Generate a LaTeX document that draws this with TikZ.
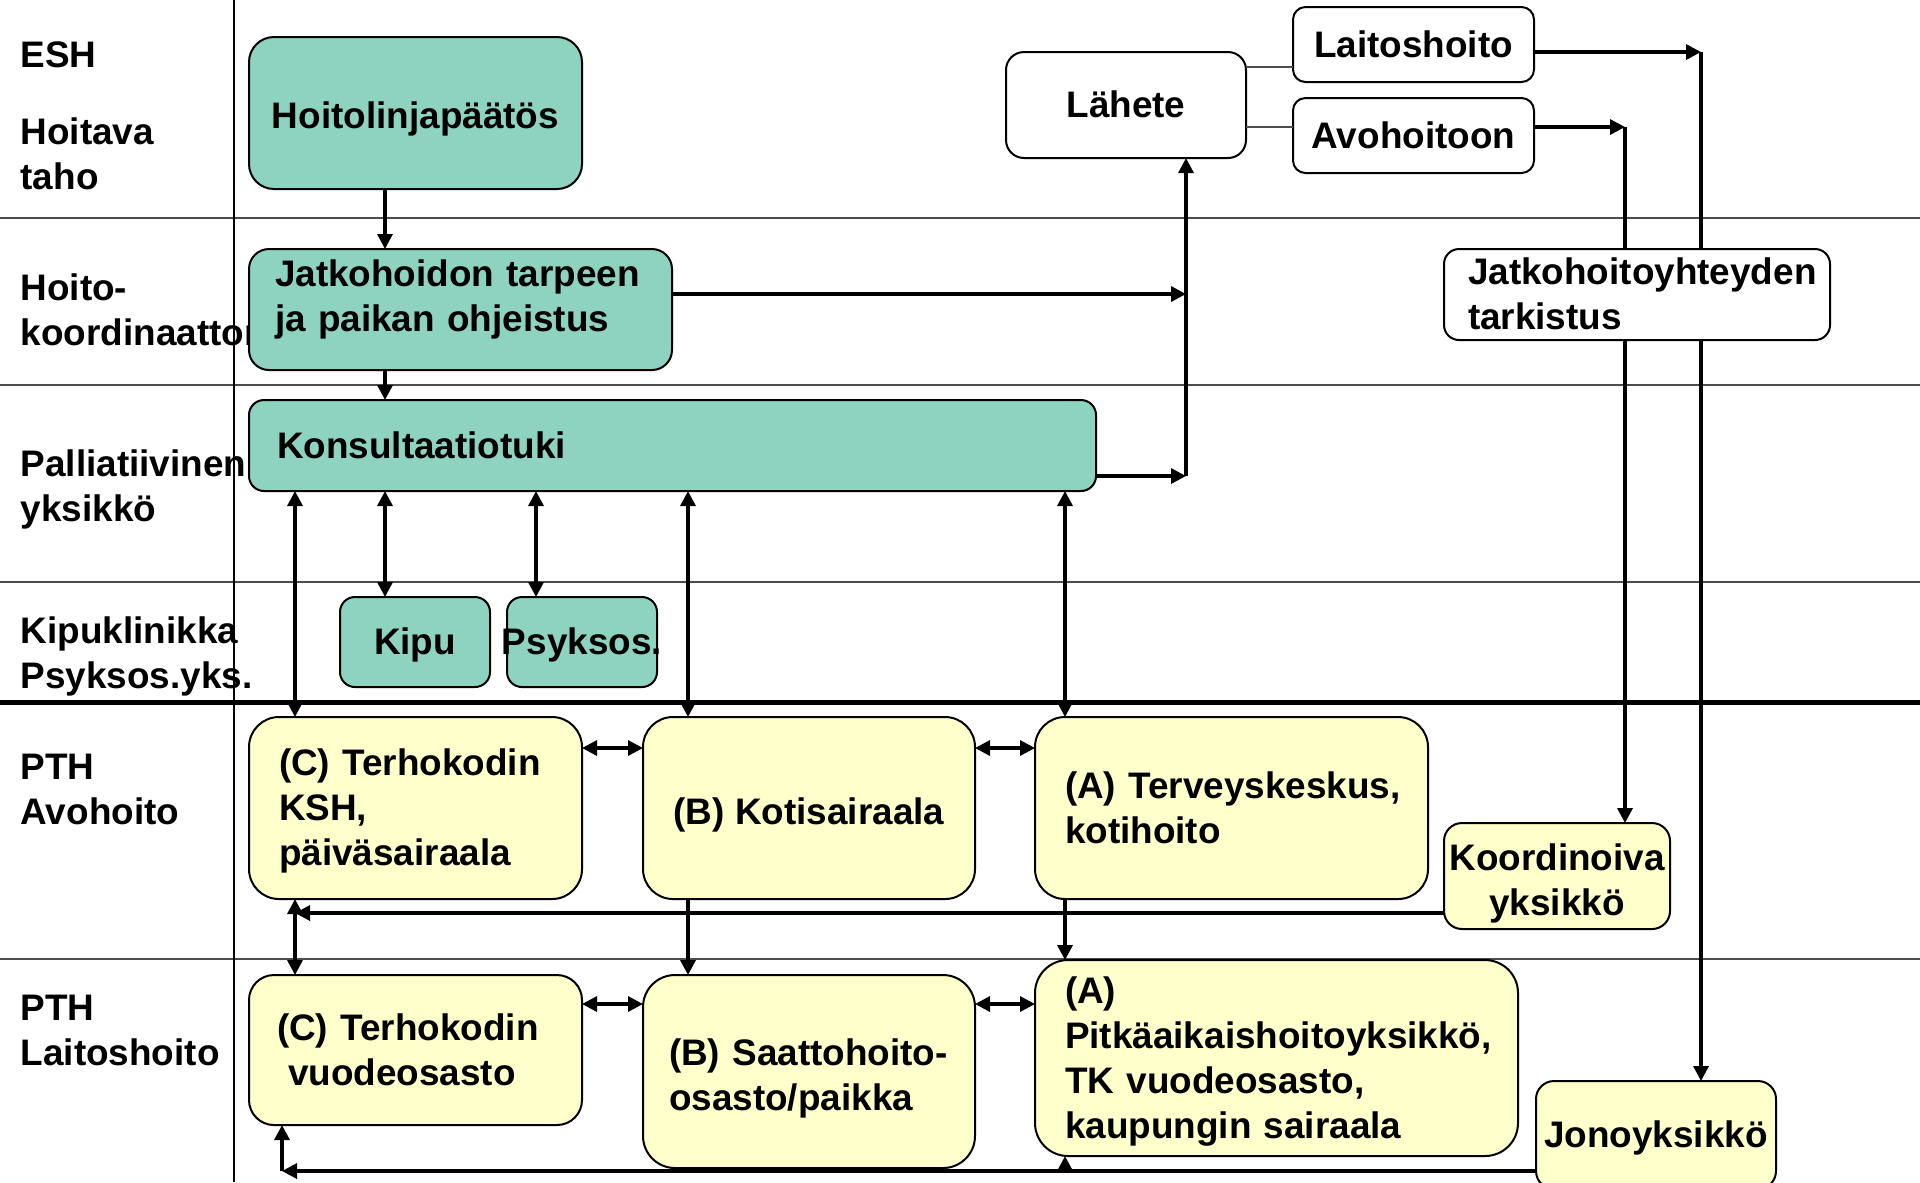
\documentclass[tikz,border=0pt]{standalone}
\usepackage{fontspec}
\setmainfont{Liberation Sans}
\usepackage{tikz}
\usetikzlibrary{positioning,arrows.meta}

\definecolor{tealfill}{RGB}{142,211,192}
\definecolor{creamfill}{RGB}{255,255,204}
\newcommand{\diagfont}{\bfseries\fontsize{10.5}{12.8}\selectfont\hyphenpenalty=10000 \exhyphenpenalty=10000 }
\newcommand{\boxstrut}{\rule[-0.212em]{0pt}{1.117em}}

\begin{document}
\begin{tikzpicture}[
			every node/.style={font=\diagfont},
			lane/.style={anchor=west, align=left, inner sep=0pt},
			laneline/.style={draw=black!70, line width=0.2mm},
			boxbase/.style={rectangle, draw=black, line width=0.2mm, outer sep=0pt, anchor=north west,
				execute at begin node=\boxstrut, execute at end node=\boxstrut},
			tealbox/.style={boxbase, fill=tealfill, rounded corners=#1},
			creambox/.style={boxbase, fill=creamfill, rounded corners=#1},
			whitebox/.style={boxbase, fill=white, rounded corners=#1},
			conn/.style={draw=black, line width=0.33mm},
			arr/.style={conn, -{Triangle[length=1.5mm, width=1.5mm]}},
			darr/.style={conn, {Triangle[length=1.5mm, width=1.5mm]}-{Triangle[length=1.5mm, width=1.5mm]}},
			tie/.style={draw=black!70, line width=0.2mm}
			]
			
			\path[use as bounding box, fill=white] (0,0) rectangle (19.2,-11.82);
			
			% swimlanes
			\draw [laneline] (0,-2.18) -- (19.2,-2.18);
			\draw [laneline] (0,-3.845) -- (19.2,-3.845);
			\draw [laneline] (0,-5.82) -- (19.2,-5.82);
			\draw [draw=black, line width=0.5mm] (0,-7.02) -- (19.2,-7.02);
			\draw [laneline] (0,-9.59) -- (19.2,-9.59);
			\draw [draw=black, line width=0.15mm] (2.34,0) -- (2.34,-11.82);
			
			\node (esh) [lane] at (0.2,-0.55) {ESH};
			\node (hoitava) [lane] at (0.2,-1.54) {Hoitava\\taho};
			\node (koordlab) [lane] at (0.2,-3.095) {Hoito-\\koordinaattori};
			\node (pallab) [lane] at (0.2,-4.895) {Palliatiivinen\\yksikkö};
			\node (kiplab) [lane] at (0.2,-6.56) {Kipuklinikka\\Psyksos.yks.};
			\node (avolab) [lane] at (0.2,-7.89) {PTH\\Avohoito};
			\node (laitlab) [lane] at (0.2,-10.305) {PTH\\Laitoshoito};
			
			% boxes
			\node (hoito) [tealbox=2.5mm, minimum width=3.33cm, minimum height=1.52cm] at (2.49,-0.37) {\rule{0pt}{0.38cm}Hoitolinjapäätös};
			\node (jatko) [tealbox=2mm, below=0.60cm of hoito.south west, anchor=north west, minimum width=4.23cm, minimum height=1.21cm, text width=3.71cm, inner xsep=0.26cm, inner ysep=0.01cm, align=left] {Jatkohoidon~tarpeen\\ja~paikan~ohjeistus\rule[-0.34cm]{0pt}{0pt}};
			\node (konsu) [tealbox=1.5mm, below=0.30cm of jatko.south west, anchor=north west, minimum width=8.47cm, minimum height=0.91cm, text width=7.91cm, inner xsep=0.28cm, align=left] {Konsultaatiotuki};
			
			\node (kipu) [tealbox=1.5mm, minimum width=1.5cm, minimum height=0.9cm] at (3.40,-5.97) {Kipu};
			\node (psyk) [tealbox=1.5mm, right=0.17cm of kipu, minimum width=1.5cm, minimum height=0.9cm, inner xsep=0.03cm] {\makebox[1.44cm]{Psyksos.}};
			
			\node (lahete) [whitebox=1.8mm, minimum width=2.40cm, minimum height=1.06cm] at (10.06,-0.52) {Lähete};
			\node (laitos) [whitebox=1.25mm, minimum width=2.41cm, minimum height=0.75cm] at (12.93,-0.07) {Laitoshoito};
			\node (avo) [whitebox=1.25mm, below=0.16cm of laitos, minimum width=2.41cm, minimum height=0.75cm] {Avohoitoon};
			
			\node (cksh) [creambox=3mm, minimum width=3.33cm, minimum height=1.82cm, text width=2.73cm, inner xsep=0.30cm, align=left] at (2.49,-7.17) {(C)~Terhokodin\\KSH,\\päiväsairaala};
			\node (bkoti) [creambox=3mm, right=0.61cm of cksh, minimum width=3.32cm, minimum height=1.82cm] {\rule{0pt}{0.40cm}(B) Kotisairaala};
			\node (ater) [creambox=3mm, right=0.60cm of bkoti, minimum width=3.93cm, minimum height=1.82cm, text width=3.33cm, inner xsep=0.30cm, align=left] {(A)~Terveyskeskus,\\kotihoito};
			\node (koord) [creambox=1.8mm, minimum width=2.26cm, minimum height=1.06cm, inner xsep=0.03cm, inner ysep=0.01cm, align=center] at (14.44,-8.23) {\rule{0pt}{0.42cm}Koordinoiva\\yksikkö};
			
			\node (cvuo) [creambox=2.5mm, below=0.76cm of cksh, minimum width=3.33cm, minimum height=1.50cm, text width=2.77cm, inner xsep=0.28cm, align=left] {(C)~Terhokodin\\\hspace*{0.11cm}vuodeosasto};
			\node (bsaatto) [creambox=3.2mm, below=0.76cm of bkoti, minimum width=3.32cm, minimum height=1.93cm, text width=2.80cm, inner xsep=0.26cm, align=left] {\rule{0pt}{0.40cm}(B)~Saattohoito-\\osasto/paikka};
			\node (apitka) [creambox=3.3mm, below=0.61cm of ater.south west, anchor=north west, minimum width=4.83cm, minimum height=1.96cm, text width=4.23cm, inner xsep=0.30cm, inner ysep=0.05cm, align=left] {(A)\\Pitkäaikaishoitoyksikkö,\\TK~vuodeosasto,\\kaupungin~sairaala};
			\node (jono) [creambox=1.8mm, minimum width=2.40cm, minimum height=1.08cm, inner xsep=0.05cm] at (15.36,-10.81) {Jonoyksikkö};
			
			% connector tracks
			\coordinate (xa) at (2.95,0);
			\coordinate (xb) at (3.85,0);
			\coordinate (xc) at (5.36,0);
			\coordinate (xd) at (6.88,0);
			\coordinate (xe) at (10.65,0);
			\coordinate (ya) at (0,-7.48);
			\coordinate (yb) at (0,-10.04);
			\coordinate (yl) at (0,-0.67);
			\coordinate (ym) at (0,-1.27);
			\coordinate (lj) at (11.86,-2.94);
			\coordinate (lk) at (11.86,-4.76);
			\coordinate (lt) at (17.01,-0.52);
			\coordinate (la) at (16.25,-1.27);
			\coordinate (lko) at (2.95,-9.13);
			\coordinate (lb) at (2.82,-11.71);
			
			\draw [arr] (hoito.south -| xb) -- (jatko.north -| xb);
			\draw [arr] (jatko.south -| xb) -- (konsu.north -| xb);
			
			\draw [darr] (konsu.south -| xa) -- (cksh.north -| xa);
			\draw [darr] (konsu.south -| xb) -- (kipu.north -| xb);
			\draw [darr] (konsu.south -| xc) -- (psyk.north -| xc);
			\draw [darr] (konsu.south -| xd) -- (bkoti.north -| xd);
			\draw [darr] (konsu.south -| xe) -- (ater.north -| xe);
			
			\draw [arr] (jatko.east |- lj) -- (lj);
			\draw [arr] (konsu.east |- lk) -- (lk);
			\draw [arr] (lk) -- (lahete.south -| lk);
			
			\draw [tie] (lahete.east |- yl) -- (laitos.west |- yl);
			\draw [tie] (lahete.east |- ym) -- (avo.west |- ym);
			\draw [arr] (laitos.east |- lt) -- (lt);
			\draw [arr] (avo.east |- la) -- (la);
			\draw [arr] (lt) -- (jono.north -| lt);
			\draw [arr] (la) -- (koord.north -| la);
			
			\draw [darr] (cksh.east |- ya) -- (bkoti.west |- ya);
			\draw [darr] (bkoti.east |- ya) -- (ater.west |- ya);
			\draw [darr] (cvuo.east |- yb) -- (bsaatto.west |- yb);
			\draw [darr] (bsaatto.east |- yb) -- (apitka.west |- yb);
			
			\draw [arr] (koord.west |- lko) -- (lko);
			\draw [darr] (cksh.south -| xa) -- (cvuo.north -| xa);
			\draw [arr] (bkoti.south -| xd) -- (bsaatto.north -| xd);
			\draw [arr] (ater.south -| xe) -- (apitka.north -| xe);
			
			\draw [arr] (jono.west |- lb) -- (lb);
			\draw [arr] (lb) -- (cvuo.south -| lb);
			\draw [arr] (lb -| xe) -- (apitka.south -| xe);
			
			\node (tarkis) [whitebox=1.5mm, minimum width=3.86cm, minimum height=0.91cm, text width=3.38cm, inner xsep=0.24cm, inner ysep=0.01cm, align=left] at (14.44,-2.49) {Jatkohoitoyhteyden\\tarkistus};
			\end{tikzpicture}
\end{document}
